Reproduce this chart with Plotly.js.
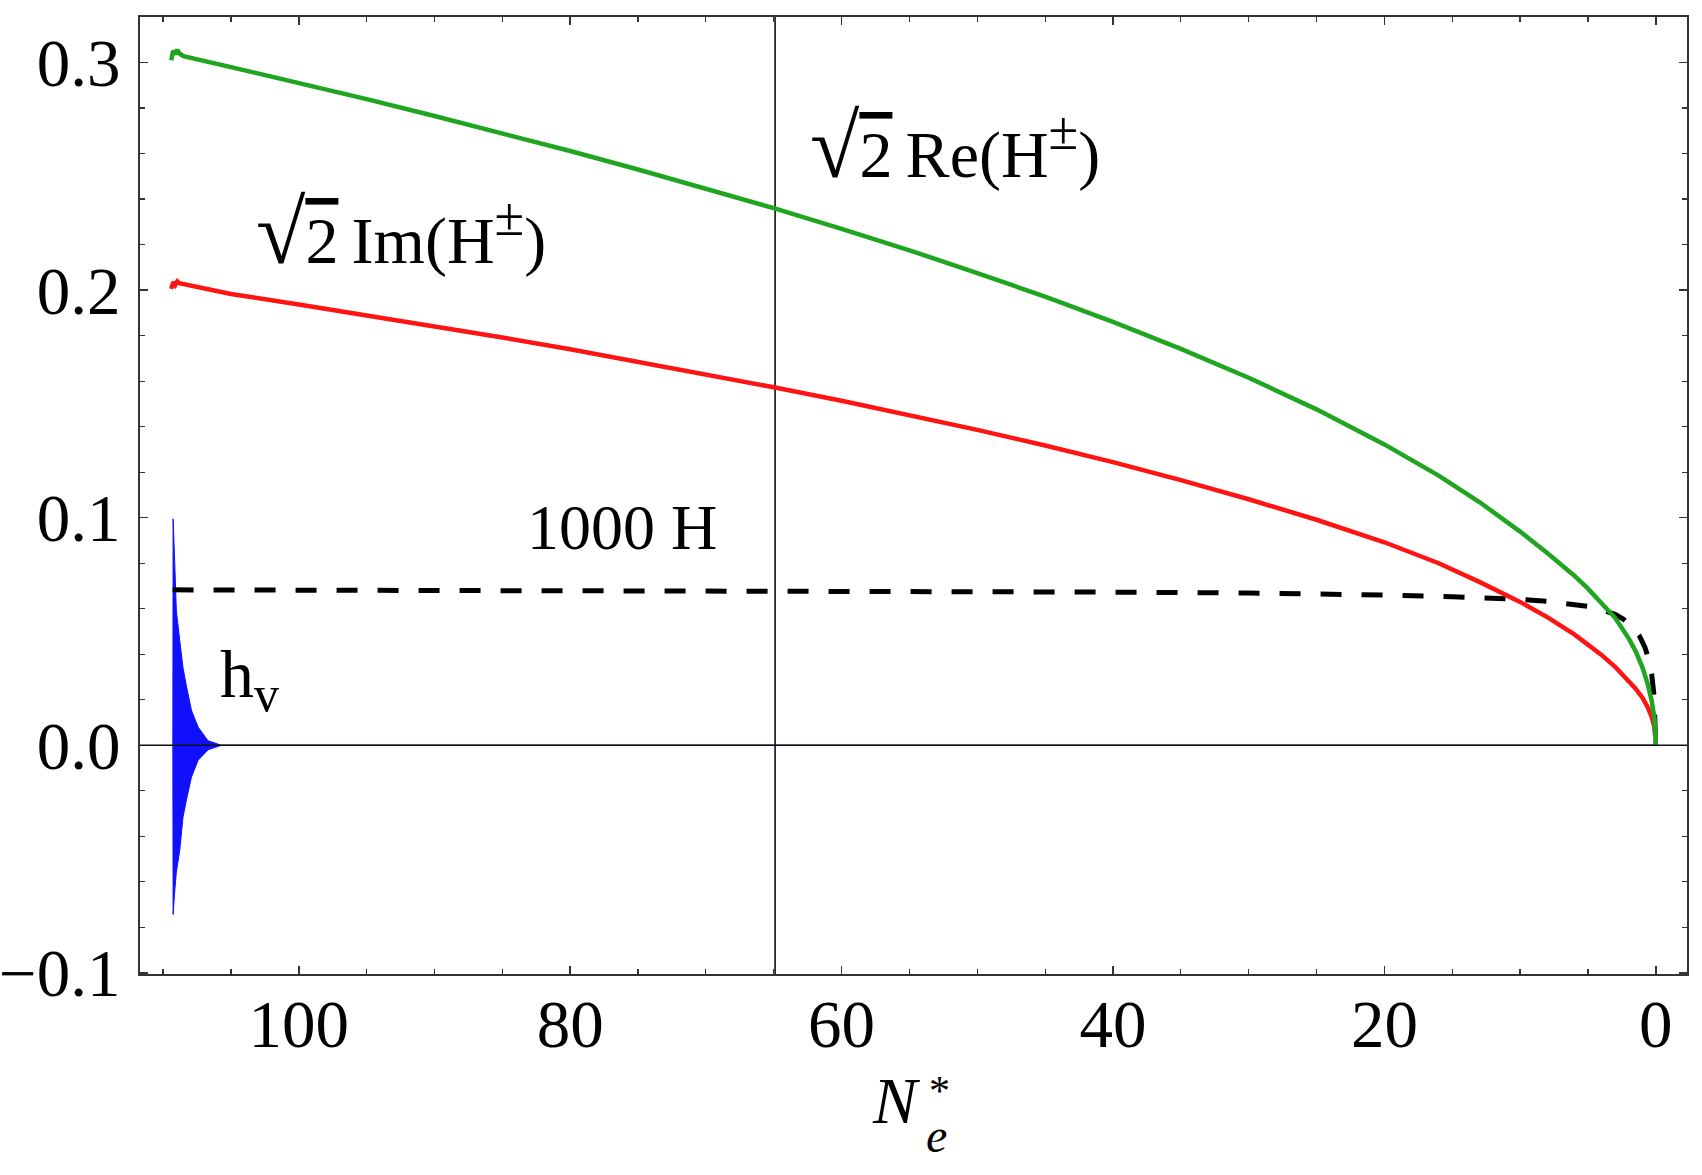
<!DOCTYPE html>
<html>
<head>
<meta charset="utf-8">
<script src="https://cdn.plot.ly/plotly-3.0.1.min.js"></script>
<style>
html,body{margin:0;padding:0;background:#fff;}
#chart{width:1702px;height:1175px;}
</style>
</head>
<body>
<div id="chart"></div>
<script>
// ---- Data ----
// sqrt(2) Re(H±)  (green)
const reN = [109.4, 109.25, 109.1, 108.95, 108.8, 108.5, 105, 100, 95, 90, 85, 80, 75, 70, 65, 60, 55, 50, 45, 40, 35, 30, 25, 20, 16, 13, 10, 8, 6, 5, 4, 3, 2, 1.5, 1, 0.6, 0.3, 0.1, 0.02, 0];
const reV = [0.3010, 0.3052, 0.3036, 0.3056, 0.3040, 0.3028, 0.2980, 0.2911, 0.2839, 0.2765, 0.2690, 0.2611, 0.2530, 0.2447, 0.2360, 0.2269, 0.2175, 0.2075, 0.1971, 0.1860, 0.1742, 0.1615, 0.1476, 0.1322, 0.1185, 0.1069, 0.0939, 0.0845, 0.0745, 0.0688, 0.0625, 0.0560, 0.0470, 0.0415, 0.0345, 0.0270, 0.0195, 0.0120, 0.0045, 0];

// sqrt(2) Im(H±)  (red)
const imN = [109.4, 109.25, 109.1, 108.95, 108.8, 105, 100, 95, 90, 85, 80, 75, 70, 65, 60, 55, 50, 45, 40, 35, 30, 25, 20, 16, 13, 10, 8, 6, 4, 3, 2, 1.5, 1, 0.6, 0.3, 0.1, 0.02, 0];
const imV = [0.2005, 0.2035, 0.2022, 0.2038, 0.2030, 0.1983, 0.1937, 0.1890, 0.1842, 0.1792, 0.1740, 0.1686, 0.1631, 0.1573, 0.1514, 0.1451, 0.1386, 0.1317, 0.1244, 0.1165, 0.1081, 0.0991, 0.0892, 0.0800, 0.0718, 0.0630, 0.0563, 0.0487, 0.0397, 0.0345, 0.0285, 0.0250, 0.0210, 0.0168, 0.0125, 0.0080, 0.0035, 0];

// 1000 H  (black dashed)
const hN = [109.3, 100, 80, 65, 50, 40, 30, 25, 20, 15, 12, 10, 8, 6.5, 5, 4, 3, 2.4, 1.8, 1.2, 0.8, 0.5, 0.3, 0.15, 0.05, 0];
const hV = [0.0683, 0.0682, 0.0680, 0.0679, 0.0676, 0.0673, 0.0669, 0.0666, 0.0660, 0.0653, 0.0647, 0.0641, 0.0633, 0.0623, 0.0610, 0.0596, 0.0575, 0.0555, 0.0525, 0.0480, 0.0430, 0.0375, 0.0310, 0.0230, 0.0120, 0];

// h_v  (blue, rapidly oscillating; drawn as its upper / lower envelope)
const hvN     = [109.28, 109.26, 109.14, 109.02, 108.77, 108.53, 108.28, 107.91, 107.42, 106.69, 105.7, 100, 60, 20, 0];
const hvUpper = [0,      0.0995, 0.0800, 0.0590, 0.0460, 0.0340, 0.0260, 0.0154, 0.0080, 0.0020, 0,     0,   0,  0,  0];
const hvLower = [0,     -0.0743,-0.0640,-0.0557,-0.0460,-0.0315,-0.0240,-0.0140,-0.0066,-0.0020, 0,     0,   0,  0,  0];

// axes origin (vertical and horizontal reference lines)
const originN = 64.9;
const originV = 0;

// axis ticks
const xTickVals = [0, 20, 40, 60, 80, 100];
const xTickText = ['0', '20', '40', '60', '80', '100'];
const yTickVals = [-0.1, 0.0, 0.1, 0.2, 0.3];
const yTickText = ['\u22120.1', '0.0', '0.1', '0.2', '0.3'];

// labels
const SQRT2 = '<span style="font-size:90px">\u221A</span><span style="text-decoration:overline">2</span>\u2009';
const PM = '<sup><span style="font-size:54px">\u00B1</span></sup>';
const labelRe = SQRT2 + 'Re(H' + PM + ')';
const labelIm = SQRT2 + 'Im(H' + PM + ')';
const labelH = '1000 H';
const labelHv = 'h<sub><span style="font-size:50px">v</span></sub>';

// ---- Plot ----
const FONT = '"Liberation Serif", "Times New Roman", serif';
const GREEN = '#1fa51f';
const RED = '#ff1414';
const BLUE = '#1010ff';

const traces = [
  { x: hvN, y: hvLower, mode: 'lines', line: { color: BLUE, width: 1 }, hoverinfo: 'skip', showlegend: false },
  { x: hvN, y: hvUpper, mode: 'lines', fill: 'tonexty', fillcolor: BLUE, line: { color: BLUE, width: 1 }, hoverinfo: 'skip', showlegend: false },
  { x: hN, y: hV, mode: 'lines', line: { color: '#000', width: 5, dash: '21px,20px' }, showlegend: false },
  { x: imN, y: imV, mode: 'lines', line: { color: RED, width: 4.5 }, showlegend: false },
  { x: reN, y: reV, mode: 'lines', line: { color: GREEN, width: 4.5 }, showlegend: false }
];

const annFont = { family: FONT, size: 66, color: '#000' };

const layout = {
  width: 1702, height: 1175,
  margin: { l: 140, r: 15, t: 17, b: 201 },
  paper_bgcolor: '#fff', plot_bgcolor: '#fff',
  font: { family: FONT, color: '#000', size: 67 },
  showlegend: false,
  xaxis: {
    range: [111.7, -2.3], autorange: false,
    tickmode: 'array', tickvals: xTickVals, ticktext: xTickText,
    ticks: 'inside', ticklen: 8, tickwidth: 1.5, tickcolor: '#333',
    minor: { dtick: 5, tick0: 0, ticks: 'inside', ticklen: 5, tickwidth: 1.2, tickcolor: '#333', showgrid: false },
    showline: true, linecolor: '#333', linewidth: 2, mirror: 'allticks',
    showgrid: false, zeroline: false,
    tickfont: { family: FONT, size: 67, color: '#000' },
    ticklabelstandoff: -9
  },
  yaxis: {
    range: [-0.1005, 0.32], autorange: false,
    tickmode: 'array', tickvals: yTickVals, ticktext: yTickText,
    ticks: 'inside', ticklen: 8, tickwidth: 1.5, tickcolor: '#333',
    minor: { dtick: 0.02, tick0: 0, ticks: 'inside', ticklen: 5, tickwidth: 1.2, tickcolor: '#333', showgrid: false },
    showline: true, linecolor: '#333', linewidth: 2, mirror: 'allticks',
    showgrid: false, zeroline: false,
    tickfont: { family: FONT, size: 67, color: '#000' },
    ticklabelstandoff: 4
  },
  shapes: [
    { type: 'line', xref: 'x', yref: 'paper', x0: originN, x1: originN, y0: 0, y1: 1, line: { color: '#000', width: 1.5 }, layer: 'below' },
    { type: 'line', xref: 'paper', yref: 'y', x0: 0, x1: 1, y0: originV, y1: originV, line: { color: '#111', width: 1.5 }, layer: 'above' }
  ],
  annotations: [
    { text: labelRe, xref: 'x', yref: 'y', x: 62.5, y: 0.2630, xanchor: 'left', yanchor: 'middle', showarrow: false, font: annFont },
    { text: labelIm, xref: 'x', yref: 'y', x: 103.3, y: 0.2252, xanchor: 'left', yanchor: 'middle', showarrow: false, font: annFont },
    { text: labelH, xref: 'x', yref: 'y', x: 83.3, y: 0.0958, xanchor: 'left', yanchor: 'middle', showarrow: false, font: { family: FONT, size: 64, color: '#000' } },
    { text: labelHv, xref: 'x', yref: 'y', x: 105.95, y: 0.0290, xanchor: 'left', yanchor: 'middle', showarrow: false, font: { family: FONT, size: 68, color: '#000' } },
    { text: '<i>N</i>', xref: 'paper', yref: 'paper', x: 0.4716, y: -0.1317, xanchor: 'left', yanchor: 'middle', showarrow: false, font: { family: FONT, size: 66, color: '#000' } },
    { text: '*', xref: 'paper', yref: 'paper', x: 0.5085, y: -0.1225, xanchor: 'left', yanchor: 'middle', showarrow: false, font: { family: FONT, size: 42, color: '#000' } },
    { text: '<i>e</i>', xref: 'paper', yref: 'paper', x: 0.5068, y: -0.1690, xanchor: 'left', yanchor: 'middle', showarrow: false, font: { family: FONT, size: 48, color: '#000' } }
  ]
};

Plotly.newPlot('chart', traces, layout, { displayModeBar: false, staticPlot: true });
</script>
</body>
</html>
